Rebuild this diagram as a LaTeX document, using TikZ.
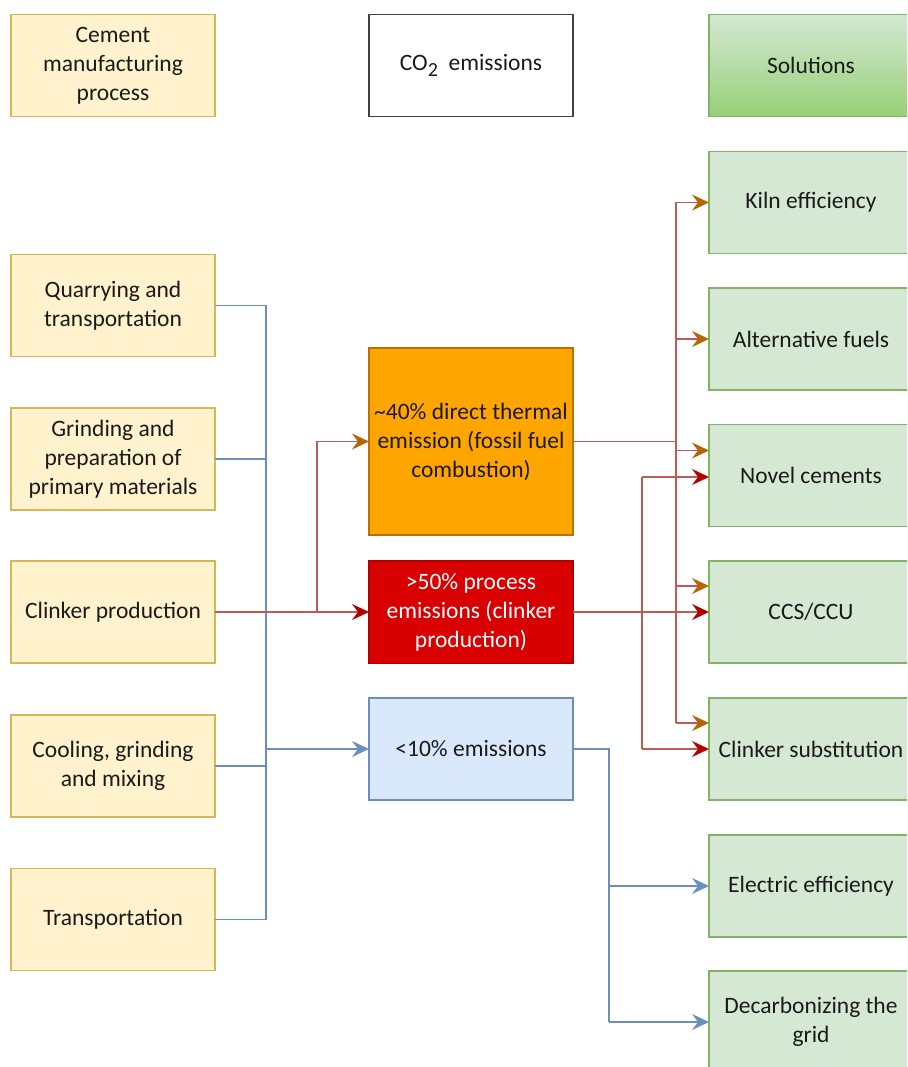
\documentclass[tikz,border=0pt]{standalone}
\usepackage{fontspec}
\setmainfont{Carlito}
\usetikzlibrary{arrows.meta,calc}
\definecolor{creamF}{HTML}{FFF2CC}
\definecolor{creamD}{HTML}{D6B656}
\definecolor{greenF}{HTML}{D5E8D4}
\definecolor{greenD}{HTML}{82B366}
\definecolor{greenB}{HTML}{97D077}
\definecolor{blueF}{HTML}{DAE8FC}
\definecolor{blueD}{HTML}{6C8EBF}
\definecolor{orangeF}{HTML}{FFA500}
\definecolor{orangeD}{HTML}{BD7000}
\definecolor{redF}{HTML}{D80000}
\definecolor{redD}{HTML}{B20000}
\definecolor{lineR}{HTML}{BF5A55}
\definecolor{arrO}{HTML}{B46504}
\definecolor{arrR}{HTML}{B20000}
\definecolor{txt}{HTML}{1A1A1A}
\tikzset{
  box/.style={draw, line width=1.5pt, minimum width=204pt, minimum height=102pt,
    inner sep=0pt, outer sep=0pt, align=center, text=txt,
    font=\fontsize{23.5}{29}\selectfont},
  procbox/.style={box, fill=creamF, draw=creamD},
  solbox/.style={box, fill=greenF, draw=greenD},
  bl/.style={draw=blueD, line width=1.8pt},
  rl/.style={draw=lineR, line width=1.8pt},
  tipB/.style={-{Stealth[length=17pt,width=16pt,inset=6pt,color=blueD]}},
  tipO/.style={-{Stealth[length=17pt,width=16pt,inset=6pt,color=arrO]}},
  tipR/.style={-{Stealth[length=17pt,width=16pt,inset=6pt,color=arrR]}},
}
\begin{document}
\begin{tikzpicture}[x=1pt,y=-1pt]
\useasboundingbox (0,0) rectangle (907,1067);
\begin{scope}
\clip (0,0) rectangle (907,1067);
% headers
\node[procbox] (h1) at (113,65.5) {Cement\\manufacturing\\process};
\node[box, fill=white, draw=black!75] (h2) at (471,65.5)
  {CO\raisebox{-6pt}{\fontsize{20}{20}\selectfont 2}\ \ emissions};
\node[box, top color=greenF, bottom color=greenB, draw=greenD] (h3) at (811,65.5) {Solutions};
% process boxes
\node[procbox] (q)  at (113,305.5) {Quarrying and\\transportation};
\node[procbox] (g)  at (113,459)   {Grinding and\\preparation of\\primary materials};
\node[procbox] (cl) at (113,612)   {Clinker production};
\node[procbox] (co) at (113,766)   {Cooling, grinding\\and mixing};
\node[procbox] (tr) at (113,919.5) {Transportation};
% emission boxes
\node[box, fill=orangeF, draw=orangeD, minimum height=187pt] (ob) at (471,441.5)
  {\textasciitilde40\% direct thermal\\emission (fossil fuel\\combustion)};
\node[box, fill=redF, draw=redD, text=white] (rb) at (471,612)
  {>50\% process\\emissions (clinker\\production)};
\node[box, fill=blueF, draw=blueD] (lo) at (471,749) {<10\% emissions};
% solution boxes
\node[solbox] (s1) at (811,202.5) {Kiln efficiency};
\node[solbox] (s2) at (811,339)   {Alternative fuels};
\node[solbox] (s3) at (811,475.5) {Novel cements};
\node[solbox] (s4) at (811,612)   {CCS/CCU};
\node[solbox] (s5) at (811,749)   {Clinker substitution};
\node[solbox] (s6) at (811,886)   {Electric efficiency};
\node[solbox] (s7) at (811,1022)  {Decarbonizing the\\grid};
% blue bus
\coordinate (busT) at (266,305.5);
\coordinate (busB) at (266,919.5);
\draw[bl] (q.east) -- (busT) -- (busB) -- (tr.east);
\draw[bl] (g.east) -- (g.east -| busT);
\draw[bl] (co.east) -- (co.east -| busT);
\draw[bl,tipB] (busT |- lo.west) -- (lo.west);
% clinker to process emission / thermal
\coordinate (cj) at (317,612);
\draw[rl,tipR] (cl.east) -- (rb.west);
\draw[rl,tipO] (cj) |- (ob.west);
% thermal to solutions
\coordinate (oT) at (676,202.5);
\coordinate (oB) at (676,723);
\draw[rl] (ob.east) -- (ob.east -| oT);
\draw[rl] (oT) -- (oB);
\draw[rl,tipO] (oT) -- (s1.west);
\draw[rl,tipO] (s2.west -| oT) -- (s2.west);
\draw[rl,tipO] ($(s3.west -| oT)+(0,-25)$) -- ($(s3.west)+(0,-25)$);
\draw[rl,tipO] ($(s4.west -| oT)+(0,-26)$) -- ($(s4.west)+(0,-26)$);
\draw[rl,tipO] (oB) -- (oB -| s5.west);
% process to solutions
\coordinate (pT) at (642,477);
\coordinate (pB) at (642,749);
\draw[rl,tipR] (rb.east) -- (s4.west);
\draw[rl] (pT) -- (pB);
\draw[rl,tipR] (pT) -- (pT -| s3.west);
\draw[rl,tipR] (pB) -- (s5.west);
% electricity to solutions
\coordinate (eT) at (609,749);
\coordinate (eB) at (609,1022);
\draw[bl] (lo.east) -- (eT) -- (eB);
\draw[bl,tipB] (eT |- s6.west) -- (s6.west);
\draw[bl,tipB] (eB) -- (s7.west);
\end{scope}
\end{tikzpicture}
\end{document}
